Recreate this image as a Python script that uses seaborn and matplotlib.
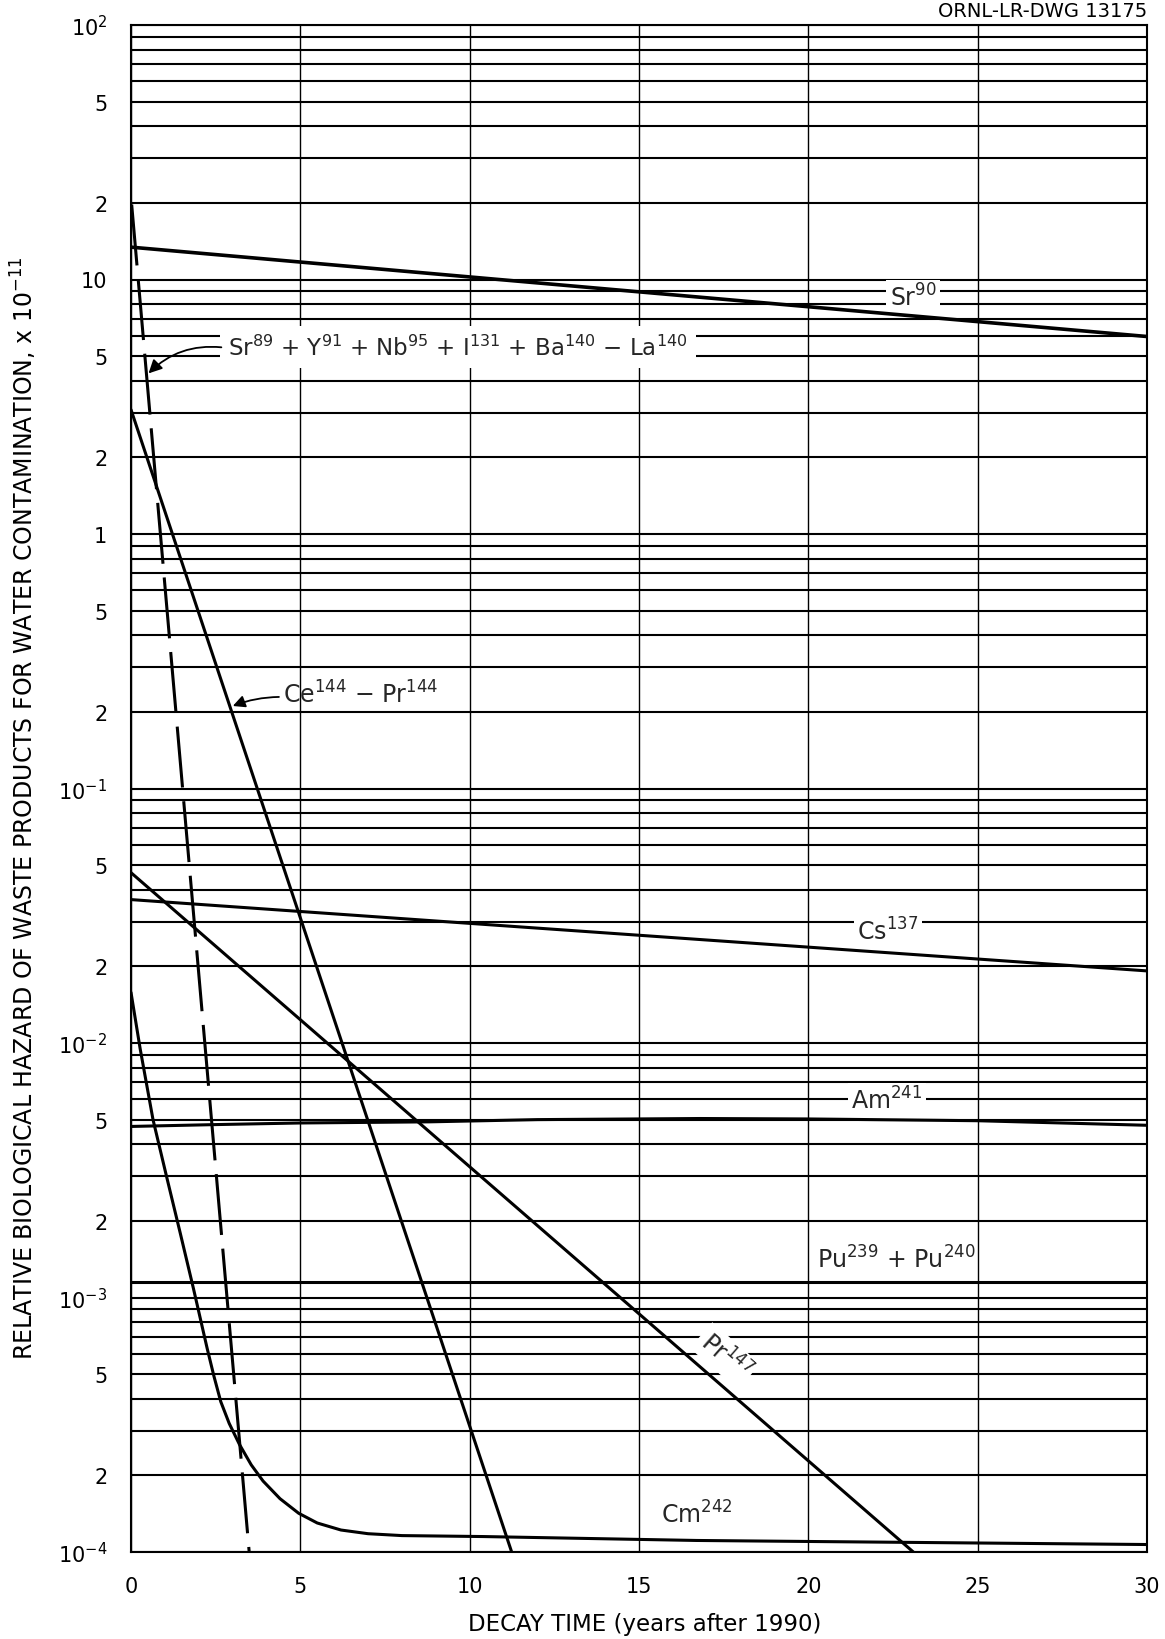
import matplotlib
matplotlib.use("Agg")
import matplotlib.pyplot as plt
import seaborn as sns
from matplotlib.ticker import FixedLocator, FixedFormatter, NullFormatter

# ---------------------------------------------------------------------------
# Données (temps en années après 1990, danger x 1e-11)
# ---------------------------------------------------------------------------
sr90_t = [0, 30]
sr90_h = [13.4, 5.97]

courts_t = [0.02, 3.49]          # Sr89 + Y91 + Nb95 + I131 + Ba140-La140
courts_h = [19.7, 1e-4]

ce144_t = [0, 11.24]
ce144_h = [3.08, 1e-4]

pr147_t = [0, 23.1]
pr147_h = [0.0467, 1e-4]

cs137_t = [0, 30]
cs137_h = [0.0366, 0.0192]

am241_t = [0, 2.5, 5, 8.8, 12, 16.8, 20, 25, 30]
am241_h = [0.0047, 0.00478, 0.00485, 0.0049, 0.0050, 0.00505, 0.00503,
           0.00495, 0.00475]

pu_t = [0, 30]
pu_h = [0.00115, 0.00115]

cm242_t = [0, 0.27, 0.65, 1.06, 1.45, 1.84, 2.25, 2.45, 2.65, 2.9, 3.2,
           3.55, 3.9, 4.4, 4.95, 5.5, 6.2, 7.0, 8.0, 10.4, 16.7, 30]
cm242_h = [0.0158, 9.5e-3, 5.0e-3, 2.95e-3, 1.8e-3, 1.09e-3, 6.3e-4,
           4.9e-4, 3.9e-4, 3.2e-4, 2.65e-4, 2.2e-4, 1.9e-4, 1.62e-4,
           1.42e-4, 1.3e-4, 1.22e-4, 1.18e-4, 1.16e-4, 1.15e-4, 1.11e-4,
           1.07e-4]

x_ticks = [0, 5, 10, 15, 20, 25, 30]
y_major = [1e2, 50, 20, 10, 5, 2, 1, 0.5, 0.2, 0.1, 0.05, 0.02, 0.01,
           5e-3, 2e-3, 1e-3, 5e-4, 2e-4, 1e-4]
y_labels = [r"$10^2$", "5", "2", "10", "5", "2", "1", "5", "2",
            r"$10^{-1}$", "5", "2", r"$10^{-2}$", "5", "2", r"$10^{-3}$",
            "5", "2", r"$10^{-4}$"]
y_minor = [m * 10.0 ** e for e in range(-4, 2) for m in (3, 4, 6, 7, 8, 9)]

sns.set_theme(style="white")
plt.rcParams["font.family"] = ["DejaVu Sans"]
plt.rcParams["mathtext.fontset"] = "dejavusans"

fig = plt.figure(figsize=(11.65, 16.4), dpi=100)
ax = fig.add_axes([131 / 1165, 1 - 1553 / 1640, 1016 / 1165, 1527 / 1640])

LW = 2.2
courbes = [
    (sr90_t, sr90_h, 2.6),
    (ce144_t, ce144_h, LW),
    (pr147_t, pr147_h, LW),
    (cs137_t, cs137_h, LW),
    (am241_t, am241_h, LW),
    (pu_t, pu_h, LW),
    (cm242_t, cm242_h, LW),
]
for t, h, lw in courbes:
    sns.lineplot(x=t, y=h, ax=ax, color="black", lw=lw, sort=False,
                 zorder=4)
sns.lineplot(x=courts_t, y=courts_h, ax=ax, color="black", lw=LW,
             linestyle=(0, (20, 4.5)), sort=False, zorder=4)

ax.set_yscale("log")
ax.set_xlim(0, 30)
ax.set_ylim(1e-4, 1e2)

ax.yaxis.set_major_locator(FixedLocator(y_major))
ax.yaxis.set_major_formatter(FixedFormatter(y_labels))
ax.yaxis.set_minor_locator(FixedLocator(y_minor))
ax.yaxis.set_minor_formatter(NullFormatter())
ax.set_xticks(x_ticks)
ax.set_xticklabels([str(v) for v in x_ticks])

ax.grid(True, which="both", axis="y", color="black", lw=1.5)
ax.grid(True, which="major", axis="x", color="black", lw=1.0)
ax.set_axisbelow(True)
ax.tick_params(which="both", length=0, labelsize=15, colors="black")
ax.tick_params(axis="y", pad=17)
ax.tick_params(axis="x", pad=17)
for s in ax.spines.values():
    s.set_color("black")
    s.set_linewidth(1.5)

ax.set_xlabel("DECAY TIME (years after 1990)", fontsize=16.5, color="black")
ax.xaxis.set_label_coords(0.506, -0.039)
ax.set_ylabel(r"RELATIVE BIOLOGICAL HAZARD OF WASTE PRODUCTS FOR WATER "
              r"CONTAMINATION, x $10^{-11}$", fontsize=17, color="black")
ax.yaxis.set_label_coords(-0.091, 0.488)

boite = dict(facecolor="white", edgecolor="none", pad=2.5)
fs = 17
ax.text(23.1, 8.53, r"Sr$^{90}$", fontsize=fs, ha="center", va="center",
        bbox=boite, zorder=3)
ax.text(2.86, 5.43,
        r"Sr$^{89}$ + Y$^{91}$ + Nb$^{95}$ + I$^{131}$ + Ba$^{140}$ $-$ La$^{140}$",
        fontsize=16.5, ha="left", va="center",
        bbox=dict(facecolor="white", edgecolor="none", pad=6), zorder=3)
ax.annotate("", xy=(0.46, 4.2), xytext=(2.75, 5.4),
            arrowprops=dict(arrowstyle="-|>", color="black", lw=1.3,
                            mutation_scale=20,
                            connectionstyle="arc3,rad=0.25"), zorder=5)
ax.text(4.49, 0.235, r"Ce$^{144}$ $-$ Pr$^{144}$", fontsize=fs, ha="left",
        va="center", zorder=3)
ax.annotate("", xy=(2.93, 0.209), xytext=(4.45, 0.229),
            arrowprops=dict(arrowstyle="-|>", color="black", lw=1.3,
                            mutation_scale=18,
                            connectionstyle="arc3,rad=0.1"), zorder=5)
ax.text(22.35, 0.0275, r"Cs$^{137}$", fontsize=fs, ha="center", va="center",
        bbox=boite, zorder=3)
ax.text(22.32, 0.00597, r"Am$^{241}$", fontsize=fs, ha="center", va="center",
        bbox=boite, zorder=3)
ax.text(22.6, 0.00142, r"Pu$^{239}$ + Pu$^{240}$", fontsize=fs, ha="center",
        va="center", zorder=3)
ax.text(17.54, 5.89e-4, r"Pr$^{147}$", fontsize=fs, ha="center", va="center",
        rotation=-41, rotation_mode="anchor", bbox=boite, zorder=3)
ax.text(16.7, 1.41e-4, r"Cm$^{242}$", fontsize=fs, ha="center", va="center",
        zorder=3)

fig.text(1147 / 1165, 1 - 2 / 1640, "ORNL-LR-DWG 13175", fontsize=14,
         ha="right", va="top", color="black")

fig.savefig("out.png", dpi=100, facecolor="white")
